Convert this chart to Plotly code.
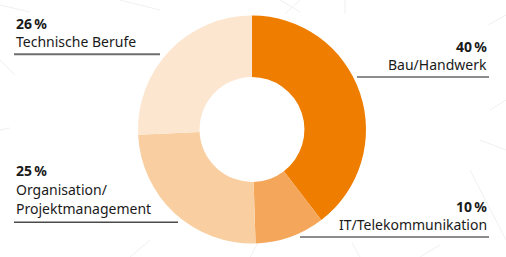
import plotly.graph_objects as go

categories = ["Bau/Handwerk", "IT/Telekommunikation", "Organisation/Projektmanagement", "Technische Berufe"]
values = [40, 10, 25, 26]
pct_labels = ["40\u2009%", "10\u2009%", "25\u2009%", "26\u2009%"]
colors = ["#EE7D00", "#F4A75A", "#F9CFA1", "#FDE6D0"]

W, H = 506, 257
FONT = "Noto Sans"

def px(x):
    return x / W

def py(y):
    return 1 - y / H

fig = go.Figure()
fig.add_trace(go.Pie(
    labels=categories, values=values, hole=0.46, sort=False,
    direction="clockwise", rotation=0,
    marker=dict(colors=colors, line=dict(width=0)),
    textinfo="none", hoverinfo="label+percent", showlegend=False,
    domain=dict(x=[px(138), px(366)], y=[py(243.5), py(15.5)]),
))

# decorative faint background lines
bg_lines = [
    (120, 0, 160, 10), (280, 0, 300, 12), (300, 0, 285, 14), (345, 0, 345, 14),
    (488, 25, 506, 15), (490, 110, 506, 100), (480, 140, 506, 150),
    (470, 170, 506, 240), (0, 60, 15, 75), (0, 130, 10, 128),
    (130, 257, 150, 240), (250, 257, 258, 243), (360, 257, 352, 243),
    (420, 257, 440, 245), (0, 5, 30, 12),
]
for x0, y0, x1, y1 in bg_lines:
    fig.add_shape(type="line", xref="paper", yref="paper",
                  x0=px(x0), y0=py(y0), x1=px(x1), y1=py(y1),
                  line=dict(color="#F0F0F0", width=1), layer="below")

blocks = [
    (pct_labels[3], ["Technische Berufe"], 14, "left", 23.5, [42], 54.3, 14, 160, "#6E6E6E", 2),
    (pct_labels[0], ["Bau/Handwerk"], 489, "right", 46, [64.5], 77, 357, 489, "#1A1A1A", 1),
    (pct_labels[2], ["Organisation/", "Projektmanagement"], 14, "left", 170.5, [189.5, 208], 222.3, 14, 178, "#4A4A4A", 1.5),
    (pct_labels[1], ["IT/Telekommunikation"], 489, "right", 206, [224], 237, 300, 489, "#1A1A1A", 1),
]
for pct, lines, ax, xa, pcy, lys, ry, rx0, rx1, rc, rw in blocks:
    fig.add_annotation(x=px(ax), y=py(pcy), xref="paper", yref="paper",
                       text="<b>" + pct + "</b>", showarrow=False,
                       xanchor=xa, yanchor="middle",
                       font=dict(family=FONT, size=14, color="#1A1A1A"))
    for t, ly in zip(lines, lys):
        fig.add_annotation(x=px(ax), y=py(ly), xref="paper", yref="paper",
                           text=t, showarrow=False, xanchor=xa, yanchor="middle",
                           font=dict(family=FONT, size=14, color="#1A1A1A"))
    fig.add_shape(type="line", xref="paper", yref="paper",
                  x0=px(rx0), y0=py(ry), x1=px(rx1), y1=py(ry),
                  line=dict(color=rc, width=rw))

fig.update_layout(
    width=W, height=H, margin=dict(l=0, r=0, t=0, b=0),
    paper_bgcolor="white", plot_bgcolor="white",
)
fig.write_html("out.html")
